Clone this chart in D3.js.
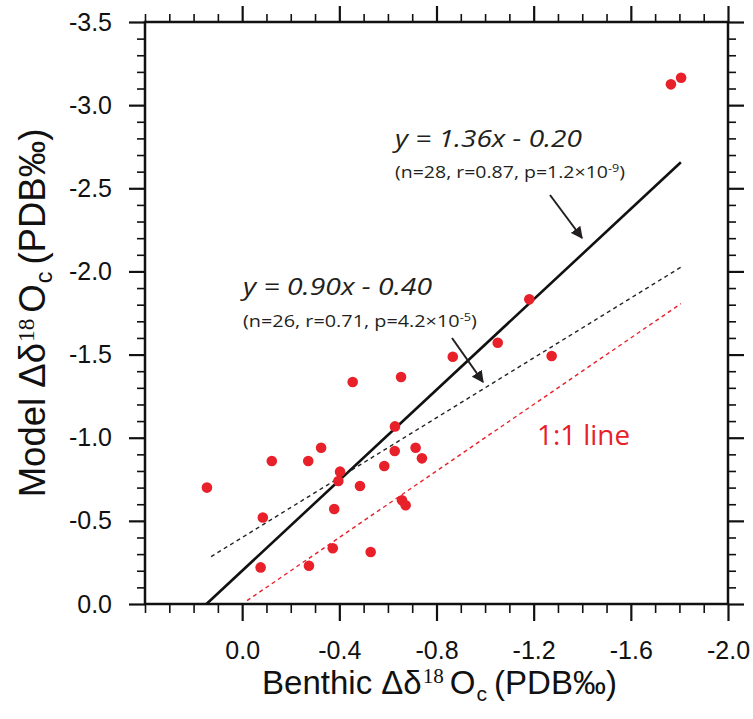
<!DOCTYPE html>
<html>
<head>
<meta charset="utf-8">
<script src="https://cdn.jsdelivr.net/npm/d3@7"></script>
<style>
  html, body { margin: 0; padding: 0; background: #fff; }
  svg { display: block; }
</style>
</head>
<body>
<svg id="chart" width="753" height="719"></svg>
<script>
// ---------------- data ----------------
const benthic = [0.145, -0.122, -0.272, -0.325, -0.085, -0.076, -0.275, -0.373, -0.529, -0.379,
                 -0.403, -0.396, -0.485, -0.585, -0.628, -0.714, -0.740, -0.658, -0.673,
                 -0.455, -0.654, -0.629, -0.867, -1.052, -1.182, -1.274, -1.765, -1.807];
const model   = [-0.70, -0.86, -0.86, -0.94, -0.52, -0.22, -0.23, -0.335, -0.313, -0.571,
                 -0.796, -0.74, -0.71, -0.83, -0.92, -0.94, -0.876, -0.624, -0.594,
                 -1.335, -1.365, -1.068, -1.487, -1.571, -1.832, -1.491, -3.125, -3.165];

const fitNames      = ["all", "subset", "oneToOne"];
const fitSlope      = [1.36, 0.90, 1.0];
const fitIntercept  = [-0.20, -0.40, 0.0];
const fitXStart     = [0.147, 0.128, -0.02];
const fitXEnd       = [-1.806, -1.806, -1.806];

const xMajorTicks  = [0.0, -0.4, -0.8, -1.2, -1.6, -2.0];
const xTickLabels  = ["0.0", "-0.4", "-0.8", "-1.2", "-1.6", "-2.0"];
const yMajorTicks  = [0.0, -0.5, -1.0, -1.5, -2.0, -2.5, -3.0, -3.5];
const yTickLabels  = ["0.0", "-0.5", "-1.0", "-1.5", "-2.0", "-2.5", "-3.0", "-3.5"];

const eq1Text   = "y = 1.36x - 0.20";
const eq2Text   = "y = 0.90x - 0.40";
const stat1     = ["(n=28, r=0.87, p=1.2×10", "-9", ")"];
const stat2     = ["(n=26, r=0.71, p=4.2×10", "-5", ")"];

// ---------------- layout ----------------
const svg = d3.select("#chart");
const L = 145, R = 728, T = 22, B = 604;
const x = d3.scaleLinear().domain([0.4, -2.0]).range([L, R]);
const y = d3.scaleLinear().domain([0, -3.5]).range([B, T]);

const red = "#e8202a";
const ink = "#111";

const near = (a, b) => Math.abs(a - b) < 1e-6;
const xMinor = d3.range(0, 25).map(i => +(0.4 - i * 0.1).toFixed(2)).filter(v => !xMajorTicks.some(m => near(m, v)));
const yMinor = d3.range(0, 36).map(i => +(-i * 0.1).toFixed(2)).filter(v => !yMajorTicks.some(m => near(m, v)));

function styleAxis(g, width) {
  g.select(".domain").remove();
  g.selectAll(".tick line").attr("stroke", ink).attr("stroke-width", width);
}

const tickFont = "'Liberation Sans', Arial, Helvetica, sans-serif";

// bottom major
svg.append("g").attr("transform", `translate(0,${B})`)
  .call(d3.axisBottom(x).tickValues(xMajorTicks).tickSize(17).tickPadding(20)
        .tickFormat((d, i) => xTickLabels[i]))
  .call(g => styleAxis(g, 2.2))
  .call(g => g.selectAll("text").attr("font-family", tickFont).attr("font-size", 25).attr("fill", ink));
svg.append("g").attr("transform", `translate(0,${B})`)
  .call(d3.axisBottom(x).tickValues(xMinor).tickSize(9).tickFormat(""))
  .call(g => styleAxis(g, 1.6));
// top
svg.append("g").attr("transform", `translate(0,${T})`)
  .call(d3.axisTop(x).tickValues(xMajorTicks).tickSize(16).tickFormat(""))
  .call(g => styleAxis(g, 2.2));
svg.append("g").attr("transform", `translate(0,${T})`)
  .call(d3.axisTop(x).tickValues(xMinor).tickSize(8).tickFormat(""))
  .call(g => styleAxis(g, 1.6));
// left
svg.append("g").attr("transform", `translate(${L},0)`)
  .call(d3.axisLeft(y).tickValues(yMajorTicks).tickSize(16).tickPadding(17)
        .tickFormat((d, i) => yTickLabels[i]))
  .call(g => styleAxis(g, 2.2))
  .call(g => g.selectAll("text").attr("font-family", tickFont).attr("font-size", 25).attr("fill", ink));
svg.append("g").attr("transform", `translate(${L},0)`)
  .call(d3.axisLeft(y).tickValues(yMinor).tickSize(8).tickFormat(""))
  .call(g => styleAxis(g, 1.6));
// right
svg.append("g").attr("transform", `translate(${R},0)`)
  .call(d3.axisRight(y).tickValues(yMajorTicks).tickSize(16).tickFormat(""))
  .call(g => styleAxis(g, 2.2));
svg.append("g").attr("transform", `translate(${R},0)`)
  .call(d3.axisRight(y).tickValues(yMinor).tickSize(8).tickFormat(""))
  .call(g => styleAxis(g, 1.6));

// frame
svg.append("rect").attr("x", L).attr("y", T).attr("width", R - L).attr("height", B - T)
  .attr("fill", "none").attr("stroke", ink).attr("stroke-width", 2.5);

// ---------------- lines ----------------
const lineStyles = {
  all:      { stroke: ink, width: 2.6, dash: null },
  subset:   { stroke: "#222", width: 1.4, dash: "4,3.5" },
  oneToOne: { stroke: red, width: 1.4, dash: "4,3.5" }
};
fitNames.forEach((name, i) => {
  const pts = [fitXStart[i], fitXEnd[i]].map(v => [x(v), y(fitSlope[i] * v + fitIntercept[i])]);
  const st = lineStyles[name];
  svg.append("path").attr("d", d3.line()(pts))
    .attr("fill", "none").attr("stroke", st.stroke).attr("stroke-width", st.width)
    .attr("stroke-dasharray", st.dash);
});

// ---------------- points ----------------
svg.append("g").selectAll("circle").data(benthic).join("circle")
  .attr("cx", d => x(d))
  .attr("cy", (d, i) => y(model[i]))
  .attr("r", 5.3)
  .attr("fill", red);

// ---------------- annotations ----------------
const defs = svg.append("defs");
defs.append("marker").attr("id", "arrow").attr("viewBox", "0 0 10 10")
  .attr("refX", 9).attr("refY", 5).attr("markerWidth", 6).attr("markerHeight", 6)
  .attr("markerUnits", "strokeWidth").attr("orient", "auto")
  .append("path").attr("d", "M0,0 L10,5 L0,10 z").attr("fill", "#231f20");

const arrows = [[[550, 195], [582, 238]], [[452, 338], [483, 382]]];
arrows.forEach(a => {
  svg.append("line").attr("x1", a[0][0]).attr("y1", a[0][1]).attr("x2", a[1][0]).attr("y2", a[1][1])
    .attr("stroke", "#231f20").attr("stroke-width", 2).attr("marker-end", "url(#arrow)");
});

const annFont = "'Open Sans', 'Noto Sans', sans-serif";
function eq(txt, xx, yy, w) {
  svg.append("text").attr("x", xx).attr("y", yy).attr("font-family", annFont)
    .attr("font-style", "italic").attr("font-size", 24).attr("fill", "#231f20")
    .attr("textLength", w).attr("lengthAdjust", "spacingAndGlyphs").text(txt);
}
function stat(parts, xx, yy, w) {
  const t = svg.append("text").attr("x", xx).attr("y", yy).attr("font-family", annFont)
    .attr("font-size", 15.5).attr("fill", "#231f20");
  t.append("tspan").text(parts[0]);
  t.append("tspan").attr("font-size", 10).attr("dy", -6).text(parts[1]);
  t.append("tspan").attr("dy", 6).text(parts[2]);
  const cur = t.node().getComputedTextLength();
  t.attr("transform", `translate(${xx},0) scale(${w / cur},1) translate(${-xx},0)`);
}
eq(eq1Text, 395, 147, 187);
stat(stat1, 395, 178, 230);
eq(eq2Text, 243, 295, 189);
stat(stat2, 243, 327, 234);

svg.append("text").attr("x", 537).attr("y", 445).attr("font-family", annFont)
  .attr("font-size", 27).attr("fill", red)
  .attr("textLength", 93).attr("lengthAdjust", "spacingAndGlyphs").text("1:1 line");

// ---------------- axis titles ----------------
const serif = "'Liberation Serif', 'Times New Roman', serif";
function axisTitle(t, size) {
  const s = size * 0.64;
  t.attr("font-family", tickFont).attr("font-size", size).attr("fill", ink).attr("text-anchor", "middle");
  t.append("tspan").text(t.attr("data-label") + " Δδ");
  t.append("tspan").attr("font-family", serif).attr("font-size", s).attr("dx", 1).attr("dy", -11).text("18");
  t.append("tspan").attr("dx", 6).attr("dy", 11).text("O");
  t.append("tspan").attr("font-size", s).attr("dx", 1).attr("dy", 7).text("c");
  t.append("tspan").attr("dx", 7).attr("dy", -7).text("(PDB‰)");
}
svg.append("text").attr("data-label", "Benthic")
  .attr("x", (L + R) / 2 + 3).attr("y", 694).call(axisTitle, 33);
svg.append("text").attr("data-label", "Model")
  .attr("transform", `translate(45,${(T + B) / 2}) rotate(-90)`).call(axisTitle, 36.5);
</script>
</body>
</html>
